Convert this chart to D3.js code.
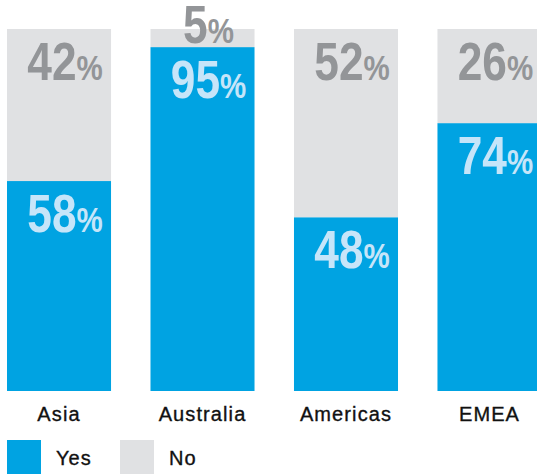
<!DOCTYPE html>
<html>
<head>
<meta charset="utf-8">
<script src="https://cdn.jsdelivr.net/npm/d3@7"></script>
<style>
  body { margin: 0; background: #fff; }
  svg { display: block; }
  .cat, .leg { font-family: "Liberation Sans", Arial, sans-serif; font-size: 20px; fill: #111; stroke: #111; stroke-width: 0.35px; letter-spacing: 1.1px; }
  .pct { font-family: "Liberation Sans", Arial, sans-serif; font-weight: bold; }
</style>
</head>
<body>
<div id="chart"></div>
<script>
const regions = ["Asia", "Australia", "Americas", "EMEA"];
const yesValues = [58, 95, 48, 74];
const noValues = [42, 5, 52, 26];
const seriesNames = ["Yes", "No"];

const width = 537, height = 474;
const blue = "#00a3e2", grey = "#e0e1e3";

const svg = d3.select("#chart").append("svg")
  .attr("width", width).attr("height", height);

// bars: 104 wide, step ~143.5, spanning y 29..391 (last one runs off the right edge)
const x = d3.scaleBand().domain(regions).range([7, 541.5]).paddingInner(0.275).paddingOuter(0);
const y = d3.scaleLinear().domain([0, 100]).range([391, 29]);

const rows = regions.map((r, i) => ({ region: r, yes: yesValues[i], no: noValues[i] }));
const stack = d3.stack().keys(["yes", "no"])(rows);

const layer = svg.selectAll("g.layer").data(stack).enter().append("g")
  .attr("class", "layer")
  .attr("fill", (d, i) => i === 0 ? blue : grey);

layer.selectAll("rect").data(d => d).enter().append("rect")
  .attr("x", d => x(d.data.region))
  .attr("y", d => y(d[1]))
  .attr("width", x.bandwidth())
  .attr("height", d => y(d[0]) - y(d[1]));

// percentage labels, squeezed horizontally to mimic a condensed face
stack.forEach((s, si) => {
  svg.selectAll("text.p" + si).data(s).enter().append("text")
    .attr("class", "pct p" + si)
    .attr("text-anchor", "middle")
    .attr("transform", d => {
      let top = y(d[1]), bot = y(d[0]);
      let ty = (bot - top) < 60 ? bot - 4 : top + 51;
      let tx = x(d.data.region) + x.bandwidth() / 2 + 6;
      return "translate(" + tx + "," + ty + ") scale(0.82,1)";
    })
    .attr("fill", si === 0 ? "#c6e5f9" : "#939598")
    .each(function(d) {
      let t = d3.select(this);
      t.append("tspan").attr("font-size", "54px").text(d[1] - d[0]);
      t.append("tspan").attr("font-size", "36px").text("%");
    });
});

// category labels
svg.selectAll("text.cat").data(regions).enter().append("text")
  .attr("class", "cat")
  .attr("text-anchor", "middle")
  .attr("x", d => x(d) + x.bandwidth() / 2)
  .attr("y", 421)
  .text(d => d);

// legend
const leg = svg.selectAll("g.leg").data(seriesNames).enter().append("g")
  .attr("transform", (d, i) => "translate(" + (7 + i * 113) + ",440)");
leg.append("rect").attr("width", 34).attr("height", 34)
  .attr("fill", (d, i) => i === 0 ? blue : grey);
leg.append("text").attr("class", "leg")
  .attr("x", 49).attr("y", 25)
  .text(d => d);
</script>
</body>
</html>
